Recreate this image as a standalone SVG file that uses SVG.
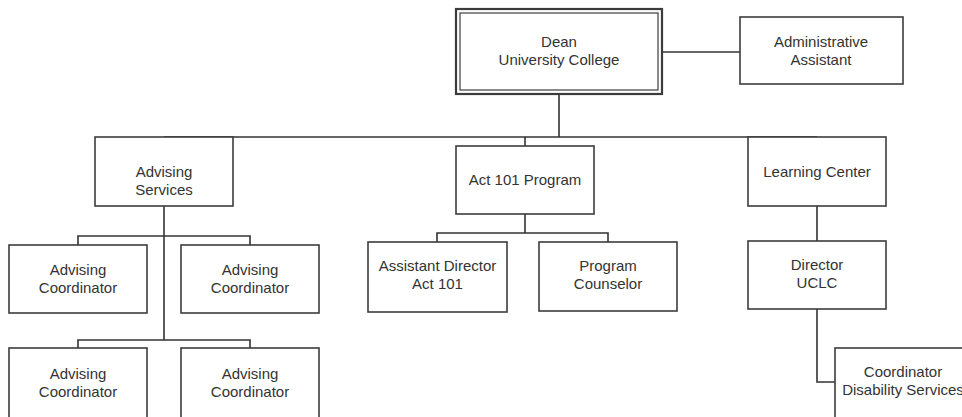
<svg xmlns="http://www.w3.org/2000/svg" width="962" height="417" viewBox="0 0 962 417">
<style>
.b{fill:#fff;stroke:#3c3c3c;stroke-width:1.6}
.t{font-family:"Liberation Sans",Arial,sans-serif;font-size:15px;fill:#333;text-anchor:middle}
.c{fill:none;stroke:#333;stroke-width:1.6}
</style>
<rect width="962" height="417" fill="#fff"/>
<g id="connectors">
<path class="c" d="M662,52H740"/>
<path class="c" d="M559,94V137"/>
<path class="c" d="M164,137H817"/>
<path class="c" d="M525,137V146"/>
<path class="c" d="M164,206V340"/>
<path class="c" d="M78,245V236H250V245"/>
<path class="c" d="M78,348V340H250V348"/>
<path class="c" d="M525,214V233"/>
<path class="c" d="M437,242V233H608V242"/>
<path class="c" d="M817,206V241"/>
<path class="c" d="M817,309V382H835"/>
</g>
<g id="dean">
<rect x="456" y="9" width="206" height="85" fill="#fff" stroke="#3c3c3c" stroke-width="2.2"/>
<rect x="460" y="13" width="198" height="77" fill="none" stroke="#3c3c3c" stroke-width="1.2"/>
<text class="t" x="559" y="47">Dean</text>
<text class="t" x="559" y="65">University College</text>
</g>
<g id="admin">
<rect class="b" x="740" y="17" width="163" height="67"/>
<text class="t" x="821" y="47">Administrative</text>
<text class="t" x="821" y="65">Assistant</text>
</g>
<g id="advising">
<rect class="b" x="95" y="137" width="138" height="69"/>
<text class="t" x="164" y="177">Advising</text>
<text class="t" x="164" y="195">Services</text>
</g>
<g id="act101">
<rect class="b" x="456" y="146" width="138" height="68"/>
<text class="t" x="525" y="185">Act 101 Program</text>
</g>
<g id="learning">
<rect class="b" x="748" y="137" width="138" height="69"/>
<text class="t" x="817" y="177">Learning Center</text>
</g>
<g id="ac1">
<rect class="b" x="9" y="245" width="138" height="68"/>
<text class="t" x="78" y="275">Advising</text>
<text class="t" x="78" y="293">Coordinator</text>
</g>
<g id="ac2">
<rect class="b" x="181" y="245" width="138" height="68"/>
<text class="t" x="250" y="275">Advising</text>
<text class="t" x="250" y="293">Coordinator</text>
</g>
<g id="ac3">
<rect class="b" x="9" y="348" width="138" height="70"/>
<text class="t" x="78" y="379">Advising</text>
<text class="t" x="78" y="397">Coordinator</text>
</g>
<g id="ac4">
<rect class="b" x="181" y="348" width="138" height="70"/>
<text class="t" x="250" y="379">Advising</text>
<text class="t" x="250" y="397">Coordinator</text>
</g>
<g id="asstdir">
<rect class="b" x="368" y="242" width="139" height="70"/>
<text class="t" x="437.5" y="271">Assistant Director</text>
<text class="t" x="437.5" y="289">Act 101</text>
</g>
<g id="counselor">
<rect class="b" x="539" y="242" width="138" height="69"/>
<text class="t" x="608" y="271">Program</text>
<text class="t" x="608" y="289">Counselor</text>
</g>
<g id="director">
<rect class="b" x="748" y="241" width="138" height="68"/>
<text class="t" x="817" y="270">Director</text>
<text class="t" x="817" y="288">UCLC</text>
</g>
<g id="disability">
<rect class="b" x="835" y="348" width="138" height="70"/>
<text class="t" x="903" y="377">Coordinator</text>
<text class="t" x="903" y="395">Disability Services</text>
</g>
</svg>
